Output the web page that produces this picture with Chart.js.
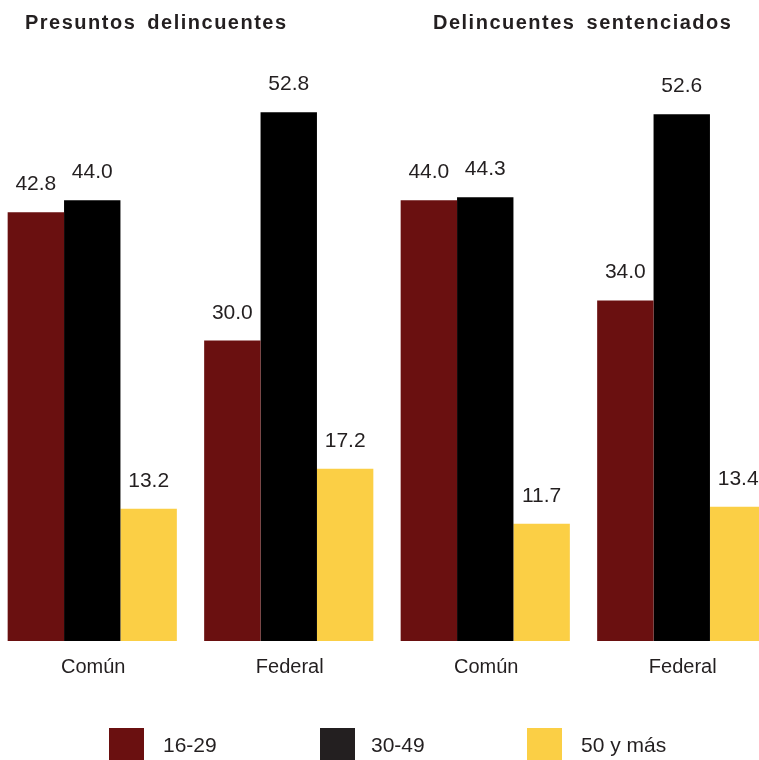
<!DOCTYPE html>
<html>
<head>
<meta charset="utf-8">
<script src="https://cdn.jsdelivr.net/npm/chart.js@4/dist/chart.umd.min.js"></script>
<style>
  html, body { margin: 0; padding: 0; background: #fff; overflow: hidden; }
  #wrap { position: absolute; left: -6px; top: 0; width: 786px; height: 760px; }
</style>
</head>
<body>
<div id="wrap"><canvas id="myChart" width="786" height="760"></canvas></div>
<script>
// categories: two panels, each Común / Federal
var categories = ['Común', 'Federal', 'Común', 'Federal'];
var panelTitles = ['Presuntos delincuentes', 'Delincuentes sentenciados'];
var ageGroups = ['16-29', '30-49', '50 y más'];

var age16to29 = [42.8, 30.0, 44.0, 34.0];
var age30to49 = [44.0, 52.8, 44.3, 52.6];
var age50plus = [13.2, 17.2, 11.7, 13.4];

var colors = ['#6a1010', '#000000', '#fbcf45'];
var legendColors = ['#6a1010', '#231f20', '#fbcf45'];

var OFF = 6; // canvas is shifted 6px left of the page
var textColor = '#231f20';

var labelsPlugin = {
    id: 'labelsPlugin',
    afterDraw: function (chart) {
        var ctx = chart.ctx;
        ctx.save();
        ctx.fillStyle = textColor;
        ctx.textAlign = 'center';
        ctx.textBaseline = 'alphabetic';

        // value labels above bars
        ctx.font = '21px "Liberation Sans", Arial, sans-serif';
        chart.data.datasets.forEach(function (ds, i) {
            var meta = chart.getDatasetMeta(i);
            meta.data.forEach(function (bar, j) {
                ctx.fillText(ds.data[j].toFixed(1), bar.x, bar.y - 22);
            });
        });

        // category labels
        ctx.font = '20px "Liberation Sans", Arial, sans-serif';
        var xScale = chart.scales.x;
        categories.forEach(function (c, j) {
            ctx.fillText(c, xScale.getPixelForValue(j) + 1, 673);
        });

        // panel titles
        ctx.textAlign = 'left';
        ctx.font = 'bold 20px "Liberation Sans", Arial, sans-serif';
        ctx.letterSpacing = '1.5px';
        ctx.wordSpacing = '4px';
        ctx.fillText(panelTitles[0], 25 + OFF, 29);
        ctx.fillText(panelTitles[1], 433 + OFF, 29);
        ctx.letterSpacing = '0px';
        ctx.wordSpacing = '0px';

        // legend
        var boxX = [109, 320, 527];
        var textX = [163, 371, 581];
        ctx.font = '21px "Liberation Sans", Arial, sans-serif';
        ageGroups.forEach(function (g, i) {
            ctx.fillStyle = legendColors[i];
            ctx.fillRect(boxX[i] + OFF, 728, 35, 40);
            ctx.fillStyle = textColor;
            ctx.fillText(g, textX[i] + OFF, 752);
        });
        ctx.restore();
    }
};

var ctx = document.getElementById('myChart').getContext('2d');

var data = {
    labels: categories,
    datasets: [
        { label: ageGroups[0], data: age16to29, backgroundColor: colors[0] },
        { label: ageGroups[1], data: age30to49, backgroundColor: colors[1] },
        { label: ageGroups[2], data: age50plus, backgroundColor: colors[2] }
    ]
};

var options = {
    responsive: false,
    animation: false,
    maintainAspectRatio: false,
    layout: { padding: { left: 0, right: 0, top: 0, bottom: 119 } },
    datasets: {
        bar: { barPercentage: 1.0, categoryPercentage: 0.861, borderWidth: 0 }
    },
    plugins: {
        legend: { display: false },
        tooltip: { enabled: false }
    },
    scales: {
        x: { display: false },
        y: { display: false, min: 0, max: 64 }
    }
};

var myChart = new Chart(ctx, {
    type: 'bar',
    data: data,
    options: options,
    plugins: [labelsPlugin]
});
</script>
</body>
</html>
